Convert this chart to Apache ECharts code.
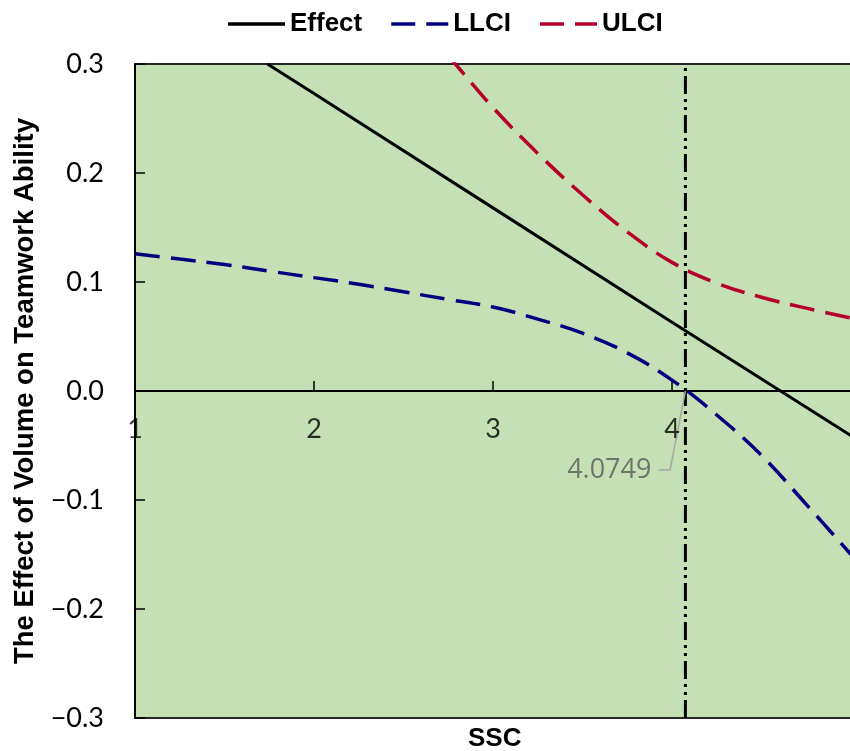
<!DOCTYPE html>
<html>
<head>
<meta charset="utf-8">
<script src="https://cdn.jsdelivr.net/npm/echarts@6/dist/echarts.min.js"></script>
<style>
html,body{margin:0;padding:0;background:#fff;}
#main{width:850px;height:751px;}
</style>
</head>
<body>
<div id="main"></div>
<script>
// ---- data ----
const effectX = [1.74, 2.0, 3.0, 4.0, 5.0];
const effectY = [0.300, 0.273, 0.168, 0.063, -0.041];

const llciX = [1.0, 1.25, 1.5, 1.75, 2.0, 2.25, 2.5, 2.75, 3.0, 3.25, 3.5, 3.75, 4.0, 4.25, 4.5, 4.75, 5.0];
const llciY = [0.126, 0.121, 0.116, 0.110, 0.104, 0.098, 0.091, 0.084, 0.077, 0.066, 0.053, 0.035, 0.010, -0.022, -0.059, -0.104, -0.150];

const ulciX = [2.75, 2.79, 3.0, 3.25, 3.5, 3.75, 4.0, 4.25, 4.5, 4.75, 5.0];
const ulciY = [0.308, 0.300, 0.260, 0.218, 0.180, 0.146, 0.118, 0.099, 0.086, 0.076, 0.067];

const jnPoint = 4.0749;
const vlineY = [-0.3, 0.3];
const leaderX = [4.0749, 3.989, 3.927];
const leaderY = [0, -0.0725, -0.0725];

const xTicks = [1, 2, 3, 4, 5];
const xTickLabels = ['1', '2', '3', '4'];
const yTicks = [-0.3, -0.2, -0.1, 0.0, 0.1, 0.2, 0.3];

const zip = (xs, ys) => xs.map((x, i) => [x, ys[i]]);

const chart = echarts.init(document.getElementById('main'), null, {renderer: 'canvas'});

const tickFont = {fontFamily: 'Lato', fontSize: 27, color: '#000'};
const boldFont = 'Liberation Sans';

const solidIcon = 'path://M0,0H57V3.5H0Z';
const dashIcon = 'path://M0,0H24V3.5H0Z M35,0H57V3.5H35Z';

chart.setOption({
  animation: false,
  backgroundColor: '#ffffff',
  title: {
    text: 'SSC',
    left: 468, top: 726,
    padding: 0,
    textStyle: {fontFamily: boldFont, fontWeight: 'bold', fontSize: 26, color: '#000'}
  },
  legend: {
    data: [
      {name: 'Effect', icon: solidIcon, itemStyle: {color: '#000000'}},
      {name: 'LLCI', icon: dashIcon, itemStyle: {color: '#000080'}},
      {name: 'ULCI', icon: dashIcon, itemStyle: {color: '#B4002B'}}
    ],
    top: 6,
    left: 223,
    itemWidth: 57,
    itemHeight: 3.5,
    itemGap: 29,
    textStyle: {fontFamily: boldFont, fontWeight: 'bold', fontSize: 26, color: '#000'}
  },
  grid: {
    left: 135, top: 64, width: 716, height: 654,
    outerBoundsMode: 'none',
    containLabel: false,
    show: true,
    backgroundColor: '#C5E0B4',
    borderColor: '#262626',
    borderWidth: 2
  },
  xAxis: {
    type: 'value',
    min: xTicks[0], max: xTicks[xTicks.length - 1], interval: 1,
    axisLine: {show: true, onZero: true, lineStyle: {color: '#000', width: 2}},
    axisTick: {show: true, inside: true, length: 10, lineStyle: {color: '#000', width: 1.5}},
    axisLabel: {show: false},
    splitLine: {show: false}
  },
  yAxis: {
    type: 'value',
    min: yTicks[0], max: yTicks[yTicks.length - 1], interval: 0.1,
    name: 'The Effect of Volume on Teamwork Ability',
    nameLocation: 'middle',
    nameRotate: 90,
    nameGap: 93,
    nameTextStyle: {fontFamily: boldFont, fontWeight: 'bold', fontSize: 27.5, color: '#000'},
    axisLine: {show: true, onZero: false, lineStyle: {color: '#000', width: 2}},
    axisTick: {show: true, inside: true, length: 10, lineStyle: {color: '#000', width: 1.5}},
    axisLabel: Object.assign({
      margin: 31,
      formatter: v => (v < -1e-9 ? '\u2212' : '') + Math.abs(v).toFixed(1)
    }, tickFont),
    splitLine: {show: false}
  },
  series: [
    {
      name: 'Effect', type: 'line',
      data: zip(effectX, effectY),
      showSymbol: false, symbol: 'none',
      lineStyle: {color: '#000000', width: 3},
      itemStyle: {color: '#000000'},
      z: 5
    },
    {
      name: 'LLCI', type: 'line',
      data: zip(llciX, llciY),
      smooth: 0.4,
      showSymbol: false, symbol: 'none',
      lineStyle: {color: '#000080', width: 3.5, type: [25, 11]},
      itemStyle: {color: '#000080'},
      z: 5
    },
    {
      name: 'ULCI', type: 'line',
      data: zip(ulciX, ulciY),
      smooth: 0.4,
      showSymbol: false, symbol: 'none',
      lineStyle: {color: '#B4002B', width: 3.5, type: [25, 11]},
      itemStyle: {color: '#B4002B'},
      z: 5
    },
    {
      name: 'JN', type: 'line',
      data: vlineY.map(y => [jnPoint, y]),
      showSymbol: false, symbol: 'none',
      clip: false,
      lineStyle: {color: '#000000', width: 3, type: [18, 5, 3, 5, 3, 5]},
      z: 6
    },
    {
      name: 'leader', type: 'line',
      data: zip(leaderX, leaderY),
      showSymbol: false, symbol: 'none',
      lineStyle: {color: '#A6A6A6', width: 1.5},
      z: 7
    },
    {
      name: 'leaderLabel', type: 'scatter',
      data: [[leaderX[leaderX.length - 1], leaderY[leaderY.length - 1]]],
      symbolSize: 1,
      itemStyle: {color: 'rgba(0,0,0,0)'},
      label: {
        show: true, position: 'left', distance: 7,
        formatter: jnPoint.toFixed(4),
        fontFamily: 'Open Sans', fontSize: 27, color: '#595959'
      },
      z: 8
    },
    {
      name: 'xTickLabels', type: 'scatter',
      data: xTickLabels.map(t => ({value: [Number(t), 0], name: t})),
      symbolSize: 1,
      clip: false,
      itemStyle: {color: 'rgba(0,0,0,0)'},
      label: Object.assign({
        show: true, position: 'bottom', distance: 24,
        formatter: p => p.name
      }, tickFont),
      z: 8
    }
  ]
});
</script>
</body>
</html>
